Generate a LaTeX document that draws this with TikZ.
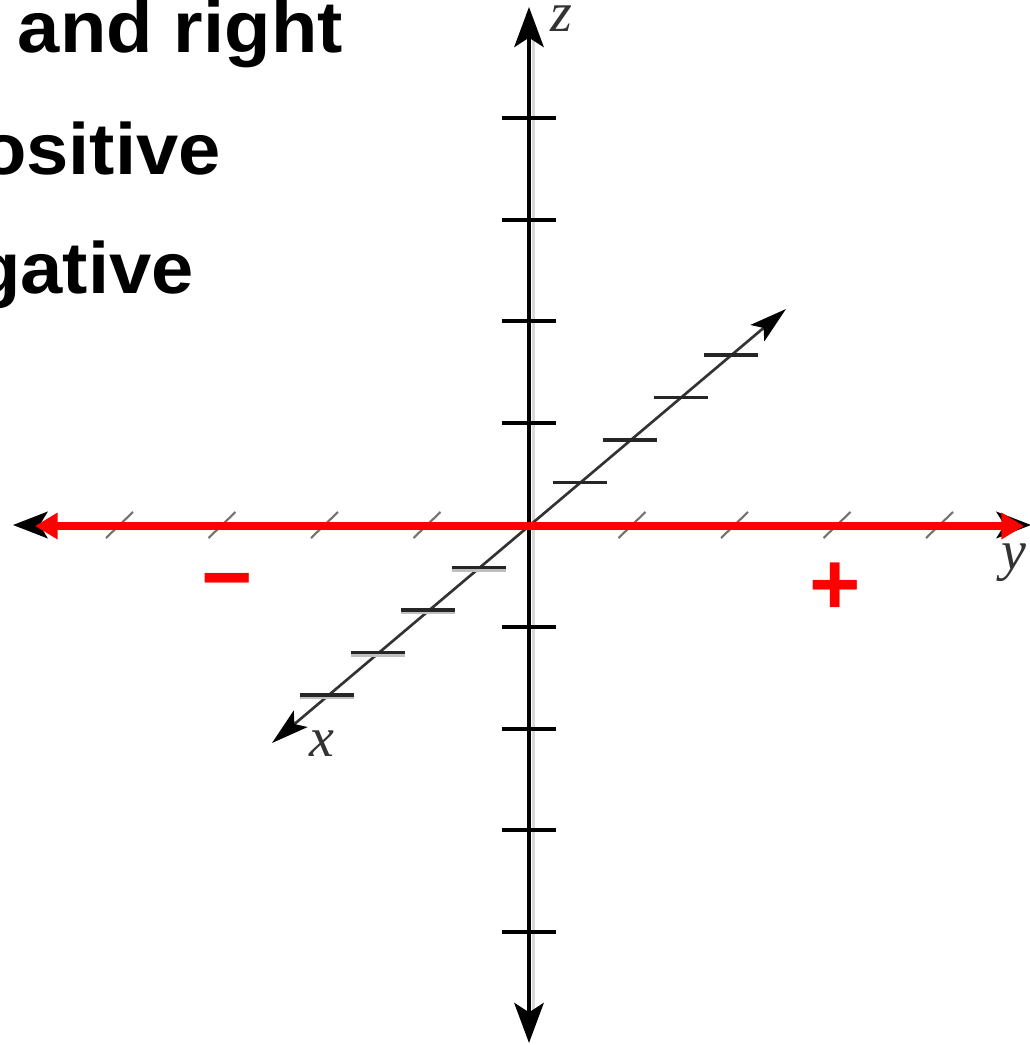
\documentclass[tikz,border=0pt]{standalone}
\usepackage{fontspec}
\setmainfont{Liberation Sans}
\newfontfamily\lblfont{Liberation Serif}
\usetikzlibrary{arrows.meta,calc}
\begin{document}
\begin{tikzpicture}[x=0.75pt,y=-0.75pt,
  headtext/.style={anchor=base east, inner sep=0pt, font=\bfseries\fontsize{54.5}{60}\selectfont},
  axlabel/.style={inner sep=0pt, font=\lblfont\itshape\fontsize{42}{46}\selectfont, text=black!80},
  signtext/.style={anchor=base, inner sep=0pt, text=red, font=\bfseries\fontsize{66}{70}\selectfont},
  zaxis/.style={line width=3.5pt, black, {Stealth[length=30pt,width=22pt,inset=7pt]}-{Stealth[length=30pt,width=22pt,inset=7pt]}},
  zshadow/.style={line width=2.8pt, black!15},
  ztick/.style={line width=3pt, black},
  xaxis/.style={line width=2pt, black!80, {Stealth[length=28pt,width=16pt,inset=6pt,black]}-{Stealth[length=28pt,width=16pt,inset=6pt,black]}},
  xtick/.style={line width=2.4pt, black!85},
  xtickshadow/.style={line width=2.2pt, black!25},
  yaxisblack/.style={line width=2.5pt, black, {Stealth[length=26pt,width=20pt,inset=6pt]}-{Stealth[length=26pt,width=20pt,inset=6pt]}},
  yaxisred/.style={line width=6pt, red, {Triangle[length=17pt,width=19pt]}-{Triangle[length=17pt,width=19pt]}},
  ytick/.style={line width=1.6pt, black!55}
]
\useasboundingbox (0,0) rectangle (1030,1045);
\clip (0,0) rectangle (1030,1045);

% heading text (cut off at the left)
\node[headtext] (t1) at (343,53) {\scalebox{1.045}[1]{and right}};
\node[headtext] (t2) at (221,175) {\scalebox{1.045}[1]{ositive}};
\node[headtext] (t3) at (194,293) {\scalebox{1.045}[1]{gative}};

% coordinates
\coordinate (O) at (529,525);
\coordinate (ztop) at (529,7);
\coordinate (zbot) at (529,1043);
\coordinate (zshtop) at (533.5,40);
\coordinate (zshbot) at (533.5,1010);
\coordinate (xpos) at (786,309);
\coordinate (xneg) at (272,743);
\coordinate (yleftb) at (13,525);
\coordinate (yrightb) at (1031,525);
\coordinate (yleftr) at (35,526);
\coordinate (yrightr) at (1024,526);

% z axis
\draw[zshadow] (zshtop) -- (zshbot);
\draw[zaxis] (zbot) -- (ztop);
\foreach \k in {-4,-3,-2,-1,1,2,3,4}{
  \draw[ztick] ($(O)+(-27,{-101.8*\k})$) -- ($(O)+(27,{-101.8*\k})$);
}

% x axis (diagonal)
\draw[xaxis] (xneg) -- (xpos);
\foreach \k in {-4,-3,-2,-1}{
  \draw[xtickshadow] ($(O)+({50.5*\k-27},{-42.5*\k+3})$) -- ($(O)+({50.5*\k+27},{-42.5*\k+3})$);
}
\foreach \k in {-4,-3,-2,-1,1,2,3,4}{
  \draw[xtick] ($(O)+({50.5*\k-27},{-42.5*\k})$) -- ($(O)+({50.5*\k+27},{-42.5*\k})$);
}

% y axis
\draw[yaxisblack] (yleftb) -- (yrightb);
\foreach \k in {-4,-3,-2,-1,1,2,3,4}{
  \draw[ytick] ($(O)+({102.5*\k-13},13)$) -- ($(O)+({102.5*\k+14},-13)$);
}
\draw[yaxisred] (yleftr) -- (yrightr);

% labels
\node[axlabel] (zl) at (561,19) {z};
\node[axlabel] (xl) at (322,744) {x};
\node[axlabel] (yl) at (1014,563) {y};

% signs
\node[signtext] (minus) at (227,607) {−};
\node[signtext] (plus) at (835,614) {+};
\end{tikzpicture}
\end{document}
